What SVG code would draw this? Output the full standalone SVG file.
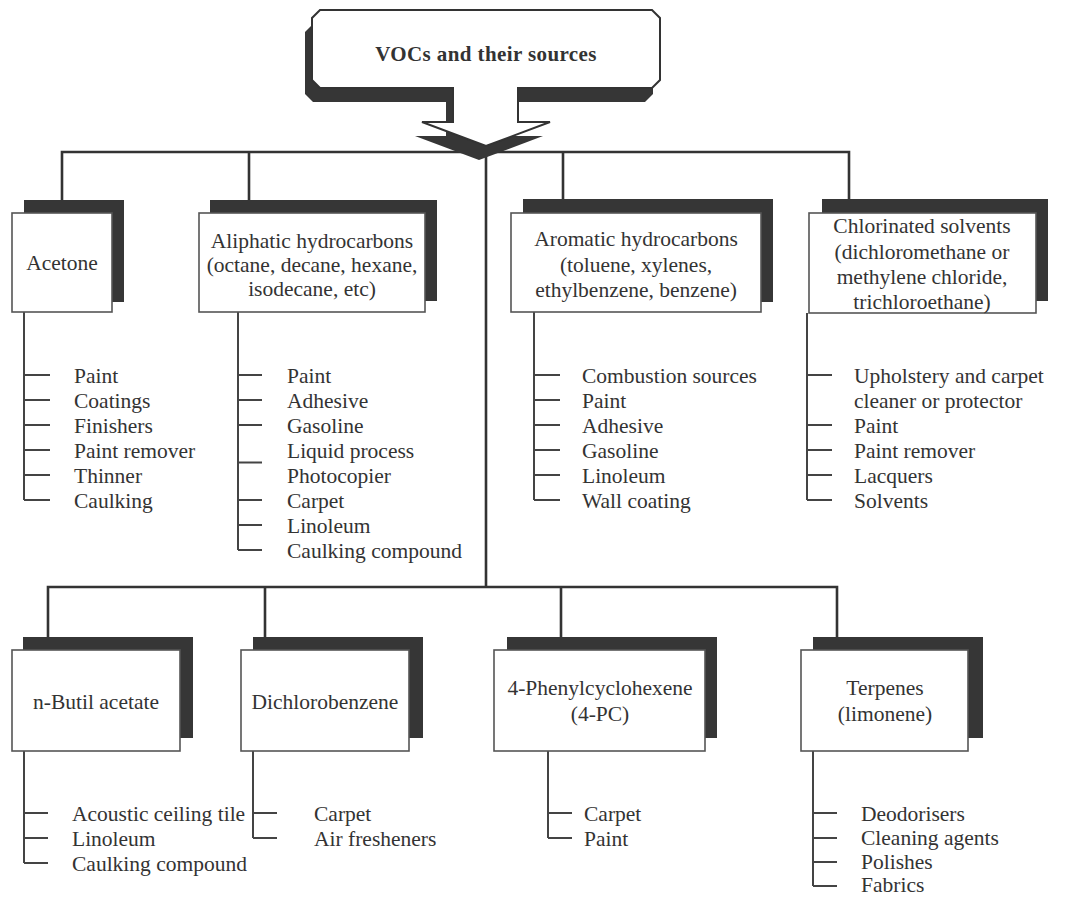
<svg xmlns="http://www.w3.org/2000/svg" width="1071" height="897" viewBox="0 0 1071 897">
<style>
.sh{fill:#363636}
.bx{fill:#fff;stroke:#555;stroke-width:1.6}
.ln{stroke:#333;stroke-width:2.6;fill:none}
.cl{stroke:#444;stroke-width:2;fill:none}
text{font-family:"Liberation Serif","Times New Roman",serif;font-size:21.5px;fill:#333}
.c{text-anchor:middle}
.t{font-weight:bold;font-size:21px;letter-spacing:0.4px}
</style>
<defs>
<path id="callout" d="M320,10 L652,10 L660,18 L660,80 L652,88 L518,88 L518,122 L550,122 L486,146 L422,122 L453,122 L453,88 L320,88 L312,80 L312,18 Z"/>
</defs>
<rect width="1071" height="897" fill="#fff"/>

<g id="connectors">
<path class="ln" d="M62,200 V152 H849 V200 M249,152 V200 M563,152 V200 M486,152 V587 M48,637 V587 H837 V637 M265,587 V637 M561,587 V637"/>
<path class="cl" d="M24,312 V500 M24,375 H50 M24,400 H50 M24,425 H50 M24,450 H50 M24,475 H50 M24,500 H50"/>
<path class="cl" d="M238,312 V550 M238,375 H262 M238,400 H262 M238,425 H262 M238,462.5 H262 M238,500 H262 M238,525 H262 M238,550 H262"/>
<path class="cl" d="M534,312 V500 M534,375 H560 M534,400 H560 M534,425 H560 M534,450 H560 M534,475 H560 M534,500 H560"/>
<path class="cl" d="M807,313 V500 M807,375 H832 M807,425 H832 M807,450 H832 M807,475 H832 M807,500 H832"/>
<path class="cl" d="M24,751 V863 M24,813 H48 M24,838 H48 M24,863 H48"/>
<path class="cl" d="M253,751 V838 M253,813 H277 M253,838 H277"/>
<path class="cl" d="M548,751 V838 M548,813 H572 M548,838 H572"/>
<path class="cl" d="M813,751 V886 M813,813 H837 M813,838 H837 M813,862 H837 M813,886 H837"/>
</g>

<g id="title">
<use href="#callout" class="sh" transform="translate(-7,14)"/>
<use href="#callout" fill="#fff" stroke="#333" stroke-width="2"/>
<text class="c t" x="486" y="61">VOCs and their sources</text>
</g>

<g id="acetone">
<rect class="sh" x="24" y="200" width="100" height="102"/>
<rect class="bx" x="12" y="213" width="100" height="99"/>
<text class="c" x="62" y="270">Acetone</text>
<text x="74" y="383">Paint</text>
<text x="74" y="408">Coatings</text>
<text x="74" y="433">Finishers</text>
<text x="74" y="458">Paint remover</text>
<text x="74" y="483">Thinner</text>
<text x="74" y="508">Caulking</text>
</g>

<g id="aliphatic">
<rect class="sh" x="210" y="200" width="227" height="101"/>
<rect class="bx" x="199" y="213" width="226" height="99"/>
<text class="c" x="312" y="248">Aliphatic hydrocarbons</text>
<text class="c" x="312" y="272">(octane, decane, hexane,</text>
<text class="c" x="312" y="296">isodecane, etc)</text>
<text x="287" y="383">Paint</text>
<text x="287" y="408">Adhesive</text>
<text x="287" y="433">Gasoline</text>
<text x="287" y="458">Liquid process</text>
<text x="287" y="483">Photocopier</text>
<text x="287" y="508">Carpet</text>
<text x="287" y="533">Linoleum</text>
<text x="287" y="558">Caulking compound</text>
</g>

<g id="aromatic">
<rect class="sh" x="523" y="199" width="250" height="103"/>
<rect class="bx" x="511" y="213" width="250" height="99"/>
<text class="c" x="636" y="246">Aromatic hydrocarbons</text>
<text class="c" x="636" y="272">(toluene, xylenes,</text>
<text class="c" x="636" y="297">ethylbenzene, benzene)</text>
<text x="582" y="383">Combustion sources</text>
<text x="582" y="408">Paint</text>
<text x="582" y="433">Adhesive</text>
<text x="582" y="458">Gasoline</text>
<text x="582" y="483">Linoleum</text>
<text x="582" y="508">Wall coating</text>
</g>

<g id="chlorinated">
<rect class="sh" x="822" y="199" width="226" height="102"/>
<rect class="bx" x="809" y="213" width="227" height="100"/>
<text class="c" x="922" y="233">Chlorinated solvents</text>
<text class="c" x="922" y="259">(dichloromethane or</text>
<text class="c" x="922" y="284">methylene chloride,</text>
<text class="c" x="922" y="309">trichloroethane)</text>
<text x="854" y="383">Upholstery and carpet</text>
<text x="854" y="408">cleaner or protector</text>
<text x="854" y="433">Paint</text>
<text x="854" y="458">Paint remover</text>
<text x="854" y="483">Lacquers</text>
<text x="854" y="508">Solvents</text>
</g>

<g id="butil">
<rect class="sh" x="23" y="637" width="170" height="101"/>
<rect class="bx" x="12" y="650" width="168" height="101"/>
<text class="c" x="96" y="709">n-Butil acetate</text>
<text x="72" y="821">Acoustic ceiling tile</text>
<text x="72" y="846">Linoleum</text>
<text x="72" y="871">Caulking compound</text>
</g>

<g id="dichlorobenzene">
<rect class="sh" x="253" y="637" width="170" height="101"/>
<rect class="bx" x="241" y="650" width="168" height="101"/>
<text class="c" x="325" y="709">Dichlorobenzene</text>
<text x="314" y="821">Carpet</text>
<text x="314" y="846">Air fresheners</text>
</g>

<g id="phenylcyclohexene">
<rect class="sh" x="507" y="637" width="210" height="101"/>
<rect class="bx" x="494" y="650" width="211" height="101"/>
<text class="c" x="600" y="695">4-Phenylcyclohexene</text>
<text class="c" x="600" y="721">(4-PC)</text>
<text x="584" y="821">Carpet</text>
<text x="584" y="846">Paint</text>
</g>

<g id="terpenes">
<rect class="sh" x="813" y="637" width="170" height="101"/>
<rect class="bx" x="801" y="650" width="167" height="101"/>
<text class="c" x="885" y="695">Terpenes</text>
<text class="c" x="885" y="721">(limonene)</text>
<text x="861" y="821">Deodorisers</text>
<text x="861" y="845">Cleaning agents</text>
<text x="861" y="869">Polishes</text>
<text x="861" y="892">Fabrics</text>
</g>
</svg>
